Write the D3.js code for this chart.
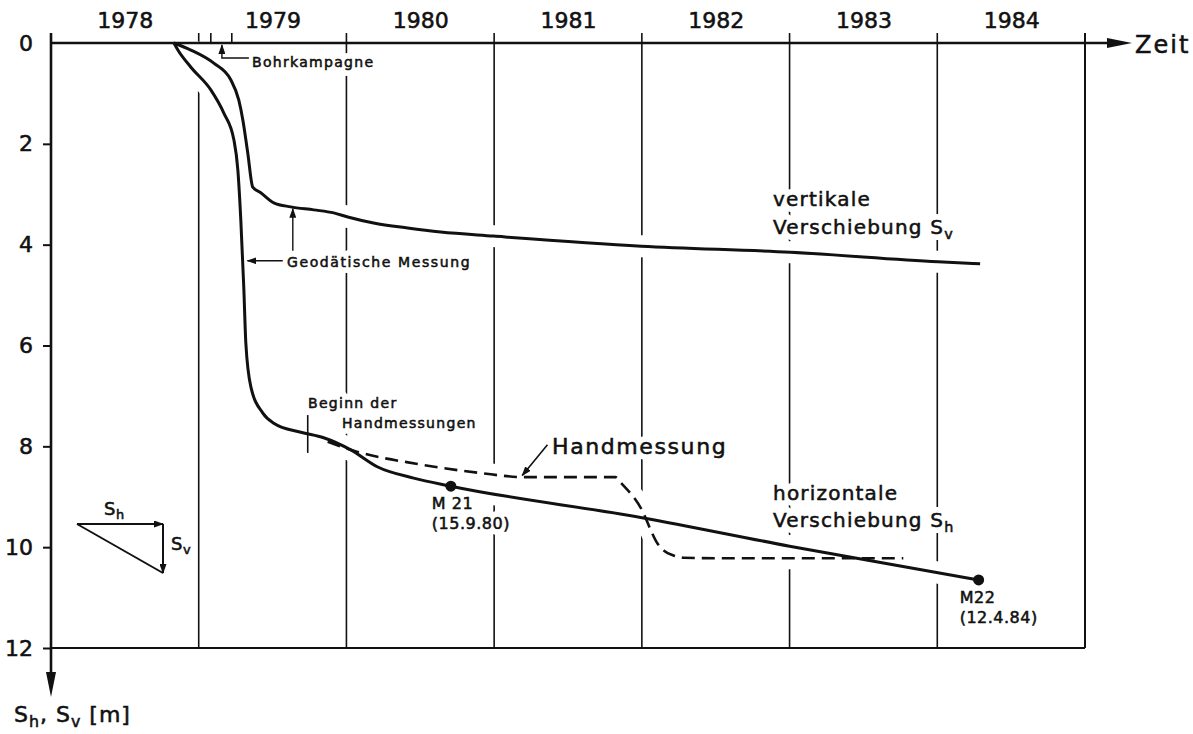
<!DOCTYPE html>
<html>
<head>
<meta charset="utf-8">
<script src="https://d3js.org/d3.v7.min.js"></script>
<style>
  body { margin: 0; background: #fff; }
  svg { display: block; }
  text { font-family: "DejaVu Sans", sans-serif; fill: #111; stroke: #111; stroke-width: 0.55; }
  .halo, .halo tspan { fill: #fff; stroke: #fff; stroke-width: 12; stroke-linejoin: round; }
</style>
</head>
<body>
<svg id="chart" width="1193" height="734"></svg>
<script>
// Jahre (Beschriftung in der Mitte des Jahres) und Jahresgrenzen
const years = [1978, 1979, 1980, 1981, 1982, 1983, 1984];
const yearEdges = [1979, 1980, 1981, 1982, 1983, 1984, 1985];
const depthTicks = [0, 2, 4, 6, 8, 10, 12];

// Bohrkampagne: Markierungen an der Zeitachse
const bohrTicks = [1979.082, 1979.224];
const bohrArrow = 1979.157;
const handBeginn = 1979.738;

// vertikale Verschiebung Sv [m] (geodätische Messung)
const vertikal = [
	[1978.832, 0], [1978.947, 0.14], [1979.102, 0.40], [1979.217, 0.73],
	[1979.271, 1.13], [1979.299, 1.53], [1979.332, 2.18], [1979.366, 2.86],
	[1979.420, 2.97], [1979.508, 3.17], [1979.623, 3.25], [1979.779, 3.31],
	[1979.914, 3.37], [1980.009, 3.45], [1980.184, 3.57], [1980.414, 3.67],
	[1980.638, 3.75], [1980.996, 3.83], [1981.997, 4.03], [1983.005, 4.15],
	[1984.006, 4.34], [1984.29, 4.38]
];

// horizontale Verschiebung Sh [m] (geodätische Messung)
const horizontal = [
	[1978.832, 0], [1978.859, 0.14], [1978.947, 0.48], [1979.082, 0.93],
	[1979.170, 1.39], [1979.238, 1.92], [1979.265, 2.52], [1979.285, 3.51],
	[1979.305, 4.84], [1979.319, 5.95], [1979.353, 6.82], [1979.434, 7.34],
	[1979.508, 7.54], [1979.691, 7.72], [1979.846, 7.83], [1980.029, 8.07],
	[1980.212, 8.41], [1980.455, 8.63], [1980.707, 8.79], [1982.01, 9.42],
	[1983.0, 9.98], [1984.28, 10.65]
];

// Handmessung Sh [m]
const handmessung = [
	[1979.873, 7.91], [1980.076, 8.11], [1980.482, 8.35], [1980.908, 8.53],
	[1981.199, 8.61], [1981.821, 8.61], [1981.86, 8.73], [1982.01, 9.32],
	[1982.06, 9.66], [1982.10, 9.90], [1982.155, 10.08], [1982.21, 10.16],
	[1982.28, 10.21], [1982.5, 10.22], [1983.77, 10.22]
];

// Messpunkte
const punktName = ["M 21", "M22"];
const punktDatum = ["(15.9.80)", "(12.4.84)"];
const punktZeit = [1980.707, 1984.28];
const punktWert = [8.79, 10.65];

const svg = d3.select("#chart");
const x = d3.scaleLinear().domain([1978, 1985]).range([51, 1085]);
const y = d3.scaleLinear().domain([0, 12]).range([43, 648]);

// Pfeilspitzen
const defs = svg.append("defs");
defs.append("marker")
	.attr("id", "bigArrow")
	.attr("markerUnits", "userSpaceOnUse")
	.attr("markerWidth", 26).attr("markerHeight", 10)
	.attr("refX", 0).attr("refY", 5)
	.attr("orient", "auto")
	.append("path").attr("d", "M0,0 L25,5 L0,10 Z").attr("fill", "#111");
defs.append("marker")
	.attr("id", "smallArrow")
	.attr("markerUnits", "userSpaceOnUse")
	.attr("markerWidth", 10).attr("markerHeight", 7)
	.attr("refX", 9).attr("refY", 3.5)
	.attr("orient", "auto")
	.append("path").attr("d", "M0,0 L10,3.5 L0,7 Z").attr("fill", "#111");

const gridG = svg.append("g");
const haloG = svg.append("g");
const axisG = svg.append("g");
const curveG = svg.append("g");
const textG = svg.append("g");

// Gitterlinien an den Jahresgrenzen (mit Strich über der Achse)
gridG.selectAll("line")
	.data(yearEdges)
	.join("line")
	.attr("x1", d => x(d)).attr("x2", d => x(d))
	.attr("y1", y(0) - 10).attr("y2", y(12))
	.attr("stroke", "#111")
	.attr("stroke-width", d => d === 1985 ? 2 : 1.6);

// Kurven
const line = d3.line()
	.x(d => x(d[0]))
	.y(d => y(d[1]))
	.curve(d3.curveMonotoneX);

[vertikal, horizontal, handmessung].forEach(s => {
	haloG.append("path")
		.attr("d", line(s))
		.attr("fill", "none")
		.attr("stroke", "#fff")
		.attr("stroke-width", 22);
});

function addText(g, tx, ty, parts, size, spacing, family, halo) {
	const t = g.append("text")
		.attr("x", tx).attr("y", ty)
		.attr("font-size", size)
		.attr("letter-spacing", spacing);
	if (family) t.attr("font-family", family);
	if (halo) t.attr("class", "halo");
	let shift = 0;
	parts.forEach(p => {
		const sub = p[0] === "_";
		const target = sub ? size * 0.24 : 0;
		t.append("tspan")
			.attr("dy", target - shift)
			.attr("font-size", sub ? size * 0.72 : size)
			.text(sub ? p.slice(1) : p);
		shift = target;
	});
	return t;
}
function label(tx, ty, parts, size, spacing, family) {
	addText(haloG, tx, ty, parts, size, spacing, family, true);
	addText(textG, tx, ty, parts, size, spacing, family, false);
}

// Achsen
const numFont = "Liberation Sans, Arial, sans-serif";
const topAxis = axisG.append("g")
	.attr("transform", `translate(0,${y(0)})`)
	.call(d3.axisTop(x)
		.tickValues(years.map(d => d + 0.5))
		.tickFormat(d => Math.floor(d))
		.tickSize(0)
		.tickPadding(15));
topAxis.select(".domain").remove();
topAxis.selectAll("text")
	.attr("font-family", numFont)
	.attr("font-size", 22)
	.attr("fill", "#111");

const leftAxis = axisG.append("g")
	.attr("transform", `translate(${x(1978)},0)`)
	.call(d3.axisLeft(y)
		.tickValues(depthTicks)
		.tickSize(8)
		.tickPadding(10));
leftAxis.select(".domain").remove();
leftAxis.selectAll("line").attr("stroke", "#111").attr("stroke-width", 2);
leftAxis.selectAll("text")
	.attr("font-family", numFont)
	.attr("font-size", 22)
	.attr("fill", "#111");
leftAxis.selectAll(".tick").filter(d => d === 0).select("line").remove();

// Achsenlinien mit Pfeilen
axisG.append("line")
	.attr("x1", x(1978)).attr("x2", 1107)
	.attr("y1", y(0)).attr("y2", y(0))
	.attr("stroke", "#111").attr("stroke-width", 2.6)
	.attr("marker-end", "url(#bigArrow)");
axisG.append("line")
	.attr("x1", x(1978)).attr("x2", x(1978))
	.attr("y1", y(0) - 10).attr("y2", 672)
	.attr("stroke", "#111").attr("stroke-width", 2.6)
	.attr("marker-end", "url(#bigArrow)");
axisG.append("line")
	.attr("x1", x(1978)).attr("x2", x(1985))
	.attr("y1", y(12)).attr("y2", y(12))
	.attr("stroke", "#111").attr("stroke-width", 2);

// Bohrkampagne
axisG.selectAll(".bohr")
	.data(bohrTicks)
	.join("line")
	.attr("class", "bohr")
	.attr("x1", d => x(d)).attr("x2", d => x(d))
	.attr("y1", y(0) - 10).attr("y2", y(0))
	.attr("stroke", "#111").attr("stroke-width", 1.6);
axisG.append("path")
	.attr("d", `M${x(bohrArrow) + 27},${y(0) + 15} H${x(bohrArrow)} V${y(0) + 2}`)
	.attr("fill", "none")
	.attr("stroke", "#111").attr("stroke-width", 1.4)
	.attr("marker-end", "url(#smallArrow)");

// Beginn der Handmessungen
axisG.append("line")
	.attr("x1", x(handBeginn)).attr("x2", x(handBeginn))
	.attr("y1", y(7.38)).attr("y2", y(8.13))
	.attr("stroke", "#111").attr("stroke-width", 1.6);

// Pfeile "Geodätische Messung"
axisG.append("line")
	.attr("x1", x(1979.637)).attr("x2", x(1979.637))
	.attr("y1", y(4.12)).attr("y2", y(3.29))
	.attr("stroke", "#111").attr("stroke-width", 1.4)
	.attr("marker-end", "url(#smallArrow)");
axisG.append("line")
	.attr("x1", x(1979.569)).attr("x2", x(1979.33))
	.attr("y1", y(4.32)).attr("y2", y(4.32))
	.attr("stroke", "#111").attr("stroke-width", 1.4)
	.attr("marker-end", "url(#smallArrow)");

// Pfeil "Handmessung"
axisG.append("line")
	.attr("x1", x(1981.361)).attr("x2", x(1981.19))
	.attr("y1", y(7.97)).attr("y2", y(8.58))
	.attr("stroke", "#111").attr("stroke-width", 1.6)
	.attr("marker-end", "url(#smallArrow)");

curveG.append("path")
	.attr("d", line(vertikal))
	.attr("fill", "none").attr("stroke", "#111").attr("stroke-width", 3);
curveG.append("path")
	.attr("d", line(horizontal))
	.attr("fill", "none").attr("stroke", "#111").attr("stroke-width", 3);
curveG.append("path")
	.attr("d", line(handmessung))
	.attr("fill", "none").attr("stroke", "#111").attr("stroke-width", 2.6)
	.attr("stroke-dasharray", "13,7");

curveG.selectAll("circle")
	.data(punktZeit)
	.join("circle")
	.attr("cx", d => x(d))
	.attr("cy", (d, i) => y(punktWert[i]))
	.attr("r", 5.5)
	.attr("fill", "#111");

// Schema Sh / Sv
const tri = axisG.append("g");
tri.append("line").attr("x1", 77).attr("y1", 524).attr("x2", 163).attr("y2", 524)
	.attr("stroke", "#111").attr("stroke-width", 2).attr("marker-end", "url(#smallArrow)");
tri.append("line").attr("x1", 163).attr("y1", 524).attr("x2", 163).attr("y2", 573)
	.attr("stroke", "#111").attr("stroke-width", 2).attr("marker-end", "url(#smallArrow)");
tri.append("line").attr("x1", 77).attr("y1", 524).attr("x2", 163).attr("y2", 573)
	.attr("stroke", "#111").attr("stroke-width", 2);

// Beschriftungen
label(1135, 53, ["Zeit"], 24, 2);
label(252, 67, ["Bohrkampagne"], 14, 1.3);
label(287, 267, ["Geodätische  Messung"], 14, 1.6);
label(308, 408, ["Beginn der"], 14, 1.3);
label(342, 428, ["Handmessungen"], 14, 1.3);
label(552, 454, ["Handmessung"], 22, 1.6);
label(773, 206, ["vertikale"], 20, 1.2);
label(773, 234, ["Verschiebung S", "_v"], 20, 1.2);
label(773, 500, ["horizontale"], 20, 1.2);
label(773, 527, ["Verschiebung S", "_h"], 20, 1.2);
punktName.forEach((n, i) => {
	const px = x(punktZeit[i]) - 19;
	const py = y(punktWert[i]);
	label(px, py + 23, [n], 16, 0.5, numFont);
	label(px, py + 43, [punktDatum[i]], 16, 0.5, numFont);
});
label(104, 515, ["S", "_h"], 18, 0.5);
label(171, 550, ["S", "_v"], 18, 0.5);
label(14, 722, ["S", "_h", ", S", "_v", " [m]"], 22, 1);
</script>
</body>
</html>
